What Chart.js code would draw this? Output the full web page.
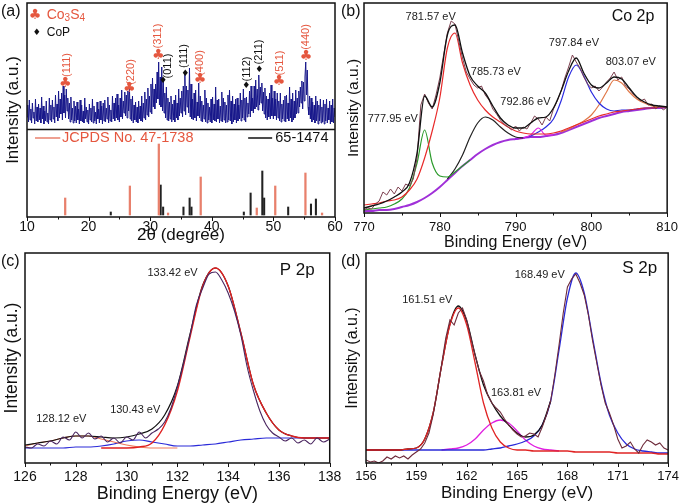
<!DOCTYPE html>
<html>
<head>
<meta charset="utf-8">
<script src="https://cdn.jsdelivr.net/npm/chart.js@4.4.0/dist/chart.umd.min.js"></script>
<style>
  html, body { margin: 0; padding: 0; background: #fff; }
  #wrap { position: relative; width: 685px; height: 503px; overflow: hidden; }
  #wrap canvas { position: absolute; }
</style>
</head>
<body>
<div id="wrap">
  <canvas id="xrd" width="345" height="253" style="left:0;top:0"></canvas>
  <canvas id="co" width="345" height="253" style="left:340px;top:0"></canvas>
  <canvas id="p" width="347" height="258" style="left:0;top:250px"></canvas>
  <canvas id="s" width="345" height="258" style="left:340px;top:250px"></canvas>
</div>
<script>
// ---- (a) XRD, scan from 10 to 60 deg every 0.125 deg (one row = 2 deg)
const xrdStart = 10, xrdStep = 0.125;
const xrdCounts = [
  100,112,95,117,97,108,94,114,99,105,93,118,96,110,95,113,
  97,109,94,120,98,111,93,106,96,116,95,104,93,119,97,112,
  95,117,98,110,94,122,100,113,96,126,99,118,103,124,97,131,
  104,122,99,128,106,119,98,114,95,120,97,109,94,116,96,111,
  94,115,97,108,93,117,96,112,95,106,94,119,98,110,95,107,
  93,113,97,109,95,118,94,111,96,105,93,115,98,108,94,116,
  97,111,93,114,96,117,95,109,98,120,94,112,96,107,95,121,
  98,114,96,119,99,123,97,112,95,119,100,127,98,116,104,125,
  101,122,99,126,106,131,98,118,96,121,94,112,97,115,95,110,
  94,116,98,111,96,121,95,114,99,125,97,118,102,129,100,121,
  105,133,103,139,110,128,108,133,114,145,118,155,112,140,110,150,
  106,136,104,124,99,130,97,119,96,115,98,121,95,113,97,117,
  95,122,99,114,97,128,101,119,104,126,100,131,106,145,102,131,
  110,127,104,149,100,133,98,118,97,124,99,127,96,115,101,134,
  99,121,96,116,95,112,98,127,95,119,94,114,97,110,95,118,
  94,120,97,113,96,130,95,117,98,118,94,111,96,125,95,119,
  97,115,94,112,95,122,97,127,96,116,93,121,95,113,97,118,
  94,119,96,112,98,124,96,117,99,128,97,119,95,120,100,114,
  103,126,100,131,106,119,104,131,108,137,110,128,107,142,112,130,
  114,134,106,125,103,129,99,121,97,118,100,124,98,132,101,119,
  98,126,101,118,97,124,99,116,96,124,95,113,98,117,96,121,
  95,122,98,114,96,130,99,118,95,124,97,116,99,127,103,119,
  104,126,110,130,114,136,108,135,116,140,155,122,147,110,102,121,
  98,119,95,115,97,112,94,121,96,116,93,112,96,118,94,110,
  95,117,93,113,96,118,94,109,97,116,93,112,95,118,94,109,
  100];

// reference patterns (JCPDS 47-1738 Co3S4, 65-1474 CoP)
const stickBase = 2;
const co3s4Theta = [16.2, 26.7, 31.4, 32.9, 38.2, 47.3, 50.3, 55.2, 57.9];
const co3s4Rel = [17, 29, 71, 2, 38, 7, 29, 42, 2];
const copTheta = [23.6, 31.7, 32.1, 35.4, 36.4, 36.7, 45.2, 46.3, 48.2, 48.5, 52.4, 56.1, 56.9];
const copRel = [3, 30, 8, 8, 17, 8, 3, 22, 44, 17, 8, 11, 16];

const co3s4Planes = ['(111)', '(220)', '(311)', '(400)', '(511)', '(440)'];
const co3s4PlaneTheta = [16.2, 26.6, 31.3, 38.1, 50.9, 55.3];
const copPlanes = ['(011)', '(111)', '(112)', '(211)'];
const copPlaneTheta = [32.1, 35.7, 45.6, 47.7];

// ---- (b) Co 2p
const coRawStart = 770, coRawStep = 0.5;
const coRaw = [3,5,4,9,12,21,18,24,19,26,
  22,29,27,34,55,108,119,110,104,118,
  135,158,180,192,189,172,155,141,134,128,
  125,127,118,113,104,99,93,89,86,83,
  87,82,86,84,90,97,94,88,96,92,
  104,112,122,135,146,158,151,145,136,129,
  125,127,122,126,131,135,141,133,136,127,
  124,119,116,112,114,108,109,104,107,103,
  106];
const coFitStart = 770, coFitStep = 1;
const coEnvelope = [5,7,9,12,16,21,30,60,117,106,130,178,188,160,137,127,120,107,95,88,
  85,85,90,95,96,105,122,142,155,140,128,125,130,136,134,125,116,111,108,107,106];
const coPeak781 = [8,9,10,12,13,16,23,34,55,82,115,165,180,150,128,113,103,96,91,86,
  82,80,79,79,79,80,82,85,88,91,94,97,99,101,102,103,104,105,105,106,106];
const coPeak778 = [3,4,5,6,9,14,25,50,83,50,37,36,41,47,53,
  null,null,null,null,null,null,null,null,null,null,null,null,null,null,null,
  null,null,null,null,null,null,null,null,null,null,null];
const coPeak786 = [null,null,null,null,null,null,null,null,null,null,null,
  34,44,58,76,90,96,93,86,80,76,75,
  null,null,null,null,null,null,null,null,null,null,null,null,null,null,null,null,null,null,null];
const coPeak793 = [null,null,null,null,null,null,null,null,null,null,
  null,null,null,null,null,null,null,null,null,null,
  74,75,78,85,78,78,
  null,null,null,null,null,null,null,null,null,null,null,null,null,null,null];
const coPeak798 = [null,null,null,null,null,null,null,null,null,null,
  null,null,null,null,null,null,null,null,null,null,
  74,75,77,81,86,94,112,136,148,137,121,110,104,102,103,103,104,105,105,106,106];
const coPeak803 = [null,null,null,null,null,null,null,null,null,null,
  null,null,null,null,null,null,null,null,null,null,null,null,null,null,null,null,
  81,84,88,92,98,108,121,133,130,121,114,110,107,106,106];
const coBackground = [2,2,3,3,4,6,8,11,15,20,26,33,40,47,53,59,64,68,71,73,
  74,75,76,76,77,78,80,83,86,89,92,95,97,99,101,102,103,104,105,105,106];
const coPeakEnergy = [777.95, 781.57, 785.73, 792.86, 797.84, 803.07];

// ---- (c) P 2p
const pRawStart = 126, pRawStep = 0.25;
const pRaw = [16,15,19,17,22,19,26,23,
  31,25,30,24,27,21,25,20,
  26,23,31,25,30,34,41,55,
  76,100,128,158,175,189,191,183,
  170,152,128,96,72,52,38,30,
  26,22,25,20,23,19,25,21,
  24];
const pFitStart = 126, pFitStep = 0.5;
const pEnvelope = [18,20,22,25,27,27,26,25,26,29,34,48,77,129,178,195,177,130,78,50,33,27,25,25,25];
const pPeak133 = [null,null,null,null,null,null,15,15,15,16,20,38,72,126,177,195,177,130,78,50,33,27,25,25,25];
const pPeak128 = [17,20,22,25,27,27,24,21,18,16,15,15,15,null,null,null,null,null,null,null,null,null,null,null,null];
const pPeak130 = [15,15,15,15,16,16,17,19,22,23,21,19,17,17,18,19,21,23,24,25,25,25,25,25,25];
const pPeakEnergy = [128.12, 130.43, 133.42];

// ---- (d) S 2p
const sRawStart = 156, sRawStep = 0.25;
const sRaw = [3,1,2,0,2,6,4,7,
  5,7,4,8,11,14,20,30,
  48,72,98,125,143,138,150,155,
  143,125,108,92,82,68,60,55,
  51,44,38,33,29,26,27,30,
  29,26,36,48,62,88,118,150,
  176,184,189,180,168,148,122,100,
  78,60,50,38,24,15,17,21,
  14,10,18,23,21,18,20,15,
  13];
const sFitStart = 156, sFitStep = 0.5;
const sEnvelope = [13,13,13,13,13,14,15,24,50,97,139,157,142,108,78,60,47,38,30,26,28,38,62,
  null,null,null,null,null,null,null,null,null,null,null,null,null,null];
const sPeak161 = [13,13,13,13,13,14,15,24,50,97,138,155,138,100,60,35,21,15,13,13,12,12,12,12,12,11,
  11,11,11,11,10,10,10,10,10,9,9];
const sPeak164 = [null,null,null,null,null,null,null,null,null,
  13,14,15,18,24,33,40,43,40,32,23,17,14,13,12,
  null,null,null,null,null,null,null,null,null,null,null,null,null];
const sPeak168 = [13,13,13,13,13,13,13,13,13,13,13,13,13,13,13,14,15,17,19,22,
  27,38,62,113,165,190,170,125,80,48,30,19,14,12,11,10,10];
const sPeakEnergy = [161.51, 163.81, 168.49];

// ---------------------------------------------------------------
const FONT = "'Liberation Sans', Arial, Helvetica, sans-serif";
const SYM = "'DejaVu Sans', sans-serif";
Chart.defaults.font.family = FONT;
Chart.defaults.color = '#111';

function pts(start, step, values) {
  return values.map((v, i) => ({ x: +(start + i * step).toFixed(3), y: v }));
}

function curve(data, color, width, smooth) {
  return {
    type: 'line', data, borderColor: color, borderWidth: width,
    pointRadius: 0, fill: false, spanGaps: false,
    cubicInterpolationMode: smooth ? 'monotone' : 'default', tension: 0
  };
}

const ev = e => e.toFixed(2) + ' eV';

// frame, outward tick marks, annotations
const framePlugin = {
  id: 'frame',
  afterDatasetsDraw(chart, args, o) {
    const { ctx, chartArea: a } = chart;
    const x = chart.scales.x, y = chart.scales.y;
    ctx.save();
    ctx.strokeStyle = '#111';
    ctx.lineWidth = 1.5;
    ctx.strokeRect(a.left, a.top, a.right - a.left, a.bottom - a.top);
    if (o.split != null) {
      const sy = Math.round(y.getPixelForValue(o.split)) + 0.5;
      ctx.beginPath(); ctx.moveTo(a.left, sy); ctx.lineTo(a.right, sy); ctx.stroke();
    }
    ctx.lineWidth = 1;
    const n = Math.round((x.max - x.min) / o.minor);
    for (let i = 0; i <= n; i++) {
      const v = x.min + i * o.minor;
      const px = Math.round(x.getPixelForValue(v)) + 0.5;
      const major = Math.abs(v / o.major - Math.round(v / o.major)) < 1e-6;
      ctx.beginPath();
      ctx.moveTo(px, a.bottom);
      ctx.lineTo(px, a.bottom + (major ? 4 : 2.5));
      ctx.stroke();
    }

    ctx.textBaseline = 'middle';
    (o.notes || []).forEach(t => {
      const px = x.getPixelForValue(t.x), py = y.getPixelForValue(t.y);
      ctx.fillStyle = t.color || '#222';
      if (t.seg != null) {
        ctx.strokeStyle = t.color;
        ctx.lineWidth = 1.5;
        ctx.beginPath(); ctx.moveTo(px, py); ctx.lineTo(x.getPixelForValue(t.seg), py); ctx.stroke();
        return;
      }
      if (t.parts) {
        let cx = px;
        ctx.textAlign = 'left';
        t.parts.forEach(([s, size, dy]) => {
          ctx.font = size + 'px ' + FONT;
          ctx.fillText(s, cx, py + dy);
          cx += ctx.measureText(s).width;
        });
        return;
      }
      ctx.font = (t.size || 11) + 'px ' + (t.fam || FONT);
      ctx.textAlign = t.align || 'center';
      if (t.rot) {
        ctx.save(); ctx.translate(px, py); ctx.rotate(t.rot); ctx.fillText(t.text, 0, 0); ctx.restore();
      } else {
        ctx.fillText(t.text, px, py);
      }
    });

    ctx.fillStyle = '#111';
    ctx.font = '16px ' + FONT;
    ctx.textAlign = 'left';
    ctx.fillText(o.letter, 1, 12);
    ctx.restore();
  }
};

function panel(id, o) {
  return new Chart(document.getElementById(id), {
    type: 'line',
    data: { datasets: o.datasets },
    options: {
      responsive: false,
      animation: false,
      events: [],
      layout: { padding: { left: 0, top: 3, right: o.padRight, bottom: 0 } },
      plugins: { legend: { display: false }, tooltip: { enabled: false }, frame: o.frame },
      scales: {
        x: {
          type: 'linear', min: o.xMin, max: o.xMax, offset: false,
          grid: { display: false, drawTicks: false }, border: { display: false },
          ticks: { stepSize: o.xStep, padding: o.tickPad, font: { size: o.tickSize }, color: '#111', maxRotation: 0 },
          title: { display: true, text: o.xTitle, color: '#111', font: { size: o.xTitleSize }, padding: { top: 0, bottom: o.xTitlePad } },
          afterFit: s => { s.height = o.xHeight; }
        },
        y: {
          type: 'linear', min: 0, max: o.yMax,
          grid: { display: false, drawTicks: false }, border: { display: false },
          ticks: { display: false },
          title: { display: true, text: 'Intensity (a.u.)', color: '#111', font: { size: o.yTitleSize }, padding: { top: o.yTitlePad, bottom: 0 } },
          afterFit: s => { s.width = o.yWidth; }
        }
      }
    },
    plugins: [framePlugin]
  });
}

// ---- (a)
const red = '#e5573f';
const clubY = [134, 129, 162, 138, 136, 161];
const clubLabel = [[16.5, 152], [26.9, 145], [31.3, 181], [38.1, 154], [51.1, 154], [55.3, 180]];
const dotY = [136, 143, 131, 147];
const dotLabel = [[32.9, 151], [35.5, 161], [45.7, 148], [47.7, 165]];
const xrdNotes = [];
co3s4Planes.forEach((h, i) => {
  xrdNotes.push({ text: '\u2663', x: co3s4PlaneTheta[i], y: clubY[i], size: 14, fam: SYM, color: red });
  xrdNotes.push({ text: h, x: clubLabel[i][0], y: clubLabel[i][1], size: 11, color: red, rot: -Math.PI / 2 });
});
copPlanes.forEach((h, i) => {
  xrdNotes.push({ text: '\u2666', x: copPlaneTheta[i], y: dotY[i], size: 9, fam: SYM, color: '#111' });
  xrdNotes.push({ text: h, x: dotLabel[i][0], y: dotLabel[i][1], size: 11, color: '#111', rot: -Math.PI / 2 });
});
xrdNotes.push(
  { text: '\u2663', x: 11.3, y: 202, size: 14, fam: SYM, color: red },
  { x: 13.2, y: 202, color: red, parts: [['Co', 14, 0], ['3', 10, 3], ['S', 14, 0], ['4', 10, 3]] },
  { text: '\u2666', x: 11.6, y: 184, size: 9, fam: SYM, color: '#111' },
  { text: 'CoP', x: 13.2, y: 184, size: 12, color: '#111', align: 'left' },
  { x: 11.3, seg: 15.4, y: 79, color: '#e8806c' },
  { text: 'JCPDS No. 47-1738', x: 15.7, y: 79, size: 14.5, color: red, align: 'left' },
  { x: 45.9, seg: 49.8, y: 79, color: '#111' },
  { text: '65-1474', x: 50.3, y: 79, size: 14.5, color: '#111', align: 'left' }
);

panel('xrd', {
  padRight: 10, xMin: 10, xMax: 60, xStep: 10, yMax: 214,
  tickPad: 2, tickSize: 14, xHeight: 36,
  xTitle: '2\u03b8 (degree)', xTitleSize: 17, xTitlePad: 7,
  yTitleSize: 17, yTitlePad: 3, yWidth: 27,
  frame: { letter: '(a)', major: 10, minor: 5, split: 88, notes: xrdNotes },
  datasets: [
    curve(pts(xrdStart, xrdStep, xrdCounts), '#17178a', 1, false),
    { type: 'bar', data: co3s4Theta.map((t, i) => ({ x: t, y: [stickBase, stickBase + co3s4Rel[i]] })),
      backgroundColor: '#e8806c', borderWidth: 0, barThickness: 1.6, grouped: false },
    { type: 'bar', data: copTheta.map((t, i) => ({ x: t, y: [stickBase, stickBase + copRel[i]] })),
      backgroundColor: '#222', borderWidth: 0, barThickness: 1.4, grouped: false }
  ]
});

// ---- (b)
panel('co', {
  padRight: 13, xMin: 770, xMax: 810, xStep: 10, yMax: 210,
  tickPad: 7, tickSize: 13, xHeight: 40,
  xTitle: 'Binding Energy (eV)', xTitleSize: 16, xTitlePad: 1,
  yTitleSize: 15.5, yTitlePad: 4, yWidth: 24,
  frame: {
    letter: '(b)', major: 10, minor: 5,
    notes: [
      { text: ev(coPeakEnergy[0]), x: 773.8, y: 94 },
      { text: ev(coPeakEnergy[1]), x: 778.8, y: 196 },
      { text: ev(coPeakEnergy[2]), x: 787.4, y: 141 },
      { text: ev(coPeakEnergy[3]), x: 791.3, y: 111 },
      { text: ev(coPeakEnergy[4]), x: 797.7, y: 170 },
      { text: ev(coPeakEnergy[5]), x: 805.2, y: 151 },
      { text: 'Co 2p', x: 805.5, y: 196, size: 16, color: '#111' }
    ]
  },
  datasets: [
    curve(pts(coFitStart, coFitStep, coEnvelope), '#111', 1.3, true),
    curve(pts(coRawStart, coRawStep, coRaw), '#7d4150', 1, false),
    curve(pts(coFitStart, coFitStep, coPeak781), '#e82a2a', 1.2, true),
    curve(pts(coFitStart, coFitStep, coPeak778), '#2a9a2a', 1.2, true),
    curve(pts(coFitStart, coFitStep, coPeak786), '#222', 1.2, true),
    curve(pts(coFitStart, coFitStep, coPeak793), '#e020e0', 1.2, true),
    curve(pts(coFitStart, coFitStep, coPeak798), '#2a2ae0', 1.2, true),
    curve(pts(coFitStart, coFitStep, coPeak803), '#e07848', 1.2, true),
    curve(pts(coFitStart, coFitStep, coBackground), '#a030d8', 2, true)
  ]
});

// ---- (c)
panel('p', {
  padRight: 12, xMin: 126, xMax: 138, xStep: 2, yMax: 210,
  tickPad: 5.6, tickSize: 14, xHeight: 45,
  xTitle: 'Binding Energy (eV)', xTitleSize: 18, xTitlePad: 3,
  yTitleSize: 17.5, yTitlePad: 2, yWidth: 25,
  frame: {
    letter: '(c)', major: 2, minor: 1,
    notes: [
      { text: ev(pPeakEnergy[0]), x: 127.43, y: 44 },
      { text: ev(pPeakEnergy[1]), x: 130.34, y: 53 },
      { text: ev(pPeakEnergy[2]), x: 131.81, y: 190 },
      { text: 'P 2p', x: 136.72, y: 193, size: 17, color: '#111' }
    ]
  },
  datasets: [
    curve(pts(pRawStart, pRawStep, pRaw), '#4a2660', 1.1, true),
    curve(pts(pFitStart, pFitStep, pPeak133), '#e02020', 1.4, true),
    curve(pts(pFitStart, pFitStep, pEnvelope), '#111', 1.2, true),
    curve(pts(pFitStart, pFitStep, pPeak128), '#f07a5a', 1.2, true),
    curve(pts(pFitStart, pFitStep, pPeak130), '#2a2ad8', 1.2, true)
  ]
});

// ---- (d)
panel('s', {
  padRight: 13, xMin: 156, xMax: 174, xStep: 3, yMax: 210,
  tickPad: 6, tickSize: 13, xHeight: 45,
  xTitle: 'Binding Energy (eV)', xTitleSize: 17, xTitlePad: 4,
  yTitleSize: 16, yTitlePad: 3, yWidth: 26,
  frame: {
    letter: '(d)', major: 3, minor: 1.5,
    notes: [
      { text: ev(sPeakEnergy[0]), x: 159.65, y: 163 },
      { text: ev(sPeakEnergy[1]), x: 164.94, y: 70 },
      { text: ev(sPeakEnergy[2]), x: 166.35, y: 188 },
      { text: 'S 2p', x: 172.3, y: 195, size: 17, color: '#111' }
    ]
  },
  datasets: [
    curve(pts(sRawStart, sRawStep, sRaw), '#6e2a3a', 1.1, false),
    curve(pts(sFitStart, sFitStep, sPeak161), '#e02424', 1.3, true),
    curve(pts(sFitStart, sFitStep, sEnvelope), '#111', 1.3, true),
    curve(pts(sFitStart, sFitStep, sPeak168), '#2a2ad8', 1.3, true),
    curve(pts(sFitStart, sFitStep, sPeak164), '#e020e0', 1.3, true)
  ]
});
</script>
</body>
</html>
